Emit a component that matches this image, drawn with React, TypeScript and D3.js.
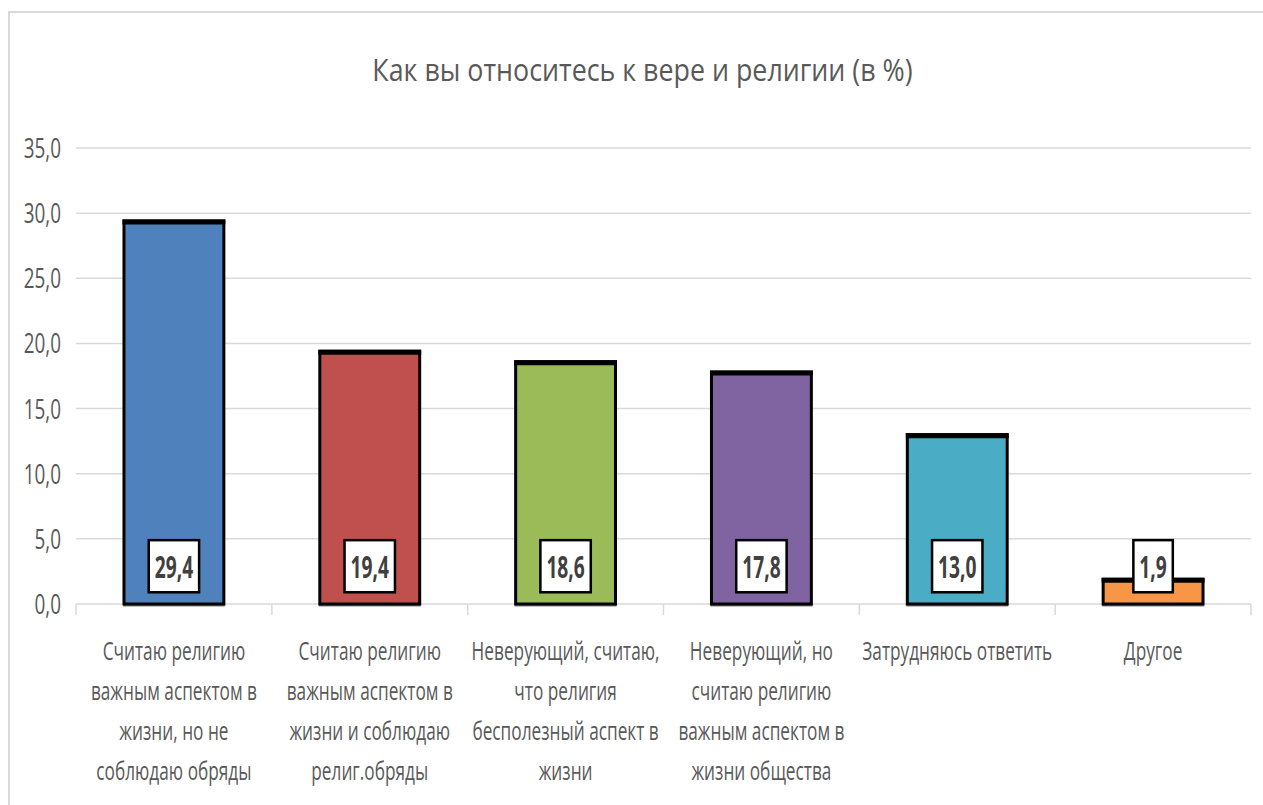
import React, { useEffect, useRef } from "react";
import * as d3 from "d3";

const title = "Как вы относитесь к вере и религии (в %)";
const categoryLines: string[][] = [
  ["Считаю религию", "важным аспектом в", "жизни, но не", "соблюдаю обряды"],
  ["Считаю религию", "важным аспектом в", "жизни и соблюдаю", "религ.обряды"],
  ["Неверующий, считаю,", "что религия", "бесполезный аспект в", "жизни"],
  ["Неверующий, но", "считаю религию", "важным аспектом в", "жизни общества"],
  ["Затрудняюсь ответить"],
  ["Другое"],
];
const values = [29.4, 19.4, 18.6, 17.8, 13.0, 1.9];
const colors = ["#4f81bd", "#c0504d", "#9bbb59", "#8064a2", "#4bacc6", "#f79646"];
const yTicks = [0, 5, 10, 15, 20, 25, 30, 35];

const fmt = (v: number) => v.toFixed(1).replace(".", ",");

export default function App() {
  const ref = useRef<SVGSVGElement>(null);
  useEffect(() => {
    const svg = d3.select(ref.current);
    svg.selectAll("*").remove();
    const W = 1263, H = 805;
    const left = 76, right = 1251, top = 148, bottom = 604;
    const font = "'Open Sans', sans-serif";
    const textCol = "#595959";

    svg.append("rect").attr("width", W).attr("height", H).attr("fill", "#fff");
    svg.append("rect").attr("x", 9).attr("y", 12).attr("width", 1300).attr("height", 900)
      .attr("fill", "#fff").attr("stroke", "#d9d9d9").attr("stroke-width", 2);

    const x = d3.scaleBand<number>().domain(d3.range(values.length)).range([left, right]).paddingInner(0.49).paddingOuter(0.245);
    const xc = d3.scaleBand<number>().domain(d3.range(values.length)).range([left, right]);
    const y = d3.scaleLinear().domain([0, 35]).range([bottom, top]);

    const addText = (g: any, tx: number, ty: number, str: string, size: number, anchor: string, sx: number, weight = "normal", color = textCol) =>
      g.append("text").attr("transform", `translate(${tx},${ty}) scale(${sx},1)`)
        .attr("text-anchor", anchor).attr("font-family", font).attr("font-size", size)
        .attr("font-weight", weight).attr("fill", color).text(str);

    addText(svg, 642.5, 81, title, 31, "middle", 0.865);

    yTicks.forEach((t) => {
      if (t > 0) svg.append("line").attr("x1", left).attr("x2", right).attr("y1", y(t)).attr("y2", y(t))
        .attr("stroke", "#d9d9d9").attr("stroke-width", 1.5);
      addText(svg, 61, y(t) + 10, fmt(t), 27, "end", 0.7);
    });
    svg.append("line").attr("x1", left).attr("x2", right).attr("y1", bottom).attr("y2", bottom)
      .attr("stroke", "#d9d9d9").attr("stroke-width", 1.5);
    d3.range(values.length + 1).forEach((i) => {
      const xx = left + i * xc.step();
      svg.append("line").attr("x1", xx).attr("x2", xx).attr("y1", bottom).attr("y2", bottom + 11)
        .attr("stroke", "#d9d9d9").attr("stroke-width", 1.5);
    });

    values.forEach((v, i) => {
      const bx = x(i)!, bw = x.bandwidth();
      svg.append("line").attr("x1", bx - 1).attr("x2", bx + bw + 1).attr("y1", bottom + 1).attr("y2", bottom + 1)
        .attr("stroke", "#7f7f7f").attr("stroke-width", 3);
      svg.append("rect").attr("x", bx).attr("y", y(v)).attr("width", bw).attr("height", bottom - y(v))
        .attr("fill", colors[i]).attr("stroke", "#000").attr("stroke-width", 3);
      svg.append("line").attr("x1", bx - 1.5).attr("x2", bx + bw + 1.5).attr("y1", y(v) + 1).attr("y2", y(v) + 1)
        .attr("stroke", "#000").attr("stroke-width", 5);
    });

    values.forEach((v, i) => {
      const cx = x(i)! + x.bandwidth() / 2;
      const g = svg.append("g");
      const rect = g.append("rect");
      const SX = 0.64;
      const t = addText(g, cx, y(2.0), fmt(v), 30, "middle", SX, "bold", "#404040");
      const tw = (t.node() as SVGTextElement).getComputedTextLength() * SX;
      const bw = tw + 12;
      rect.attr("x", cx - bw / 2).attr("y", y(4.9)).attr("width", bw).attr("height", y(0.9) - y(4.9))
        .attr("fill", "#fff").attr("stroke", "#000").attr("stroke-width", 2.5);
    });

    categoryLines.forEach((lines, i) => {
      const cx = xc(i)! + xc.bandwidth() / 2;
      lines.forEach((ln, j) => addText(svg, cx, 660 + j * 40, ln, 25, "middle", 0.69));
    });
  }, []);
  return (
    <svg ref={ref} width={1263} height={805} style={{ position: "fixed", left: 0, top: 0, display: "block" }} />
  );
}
